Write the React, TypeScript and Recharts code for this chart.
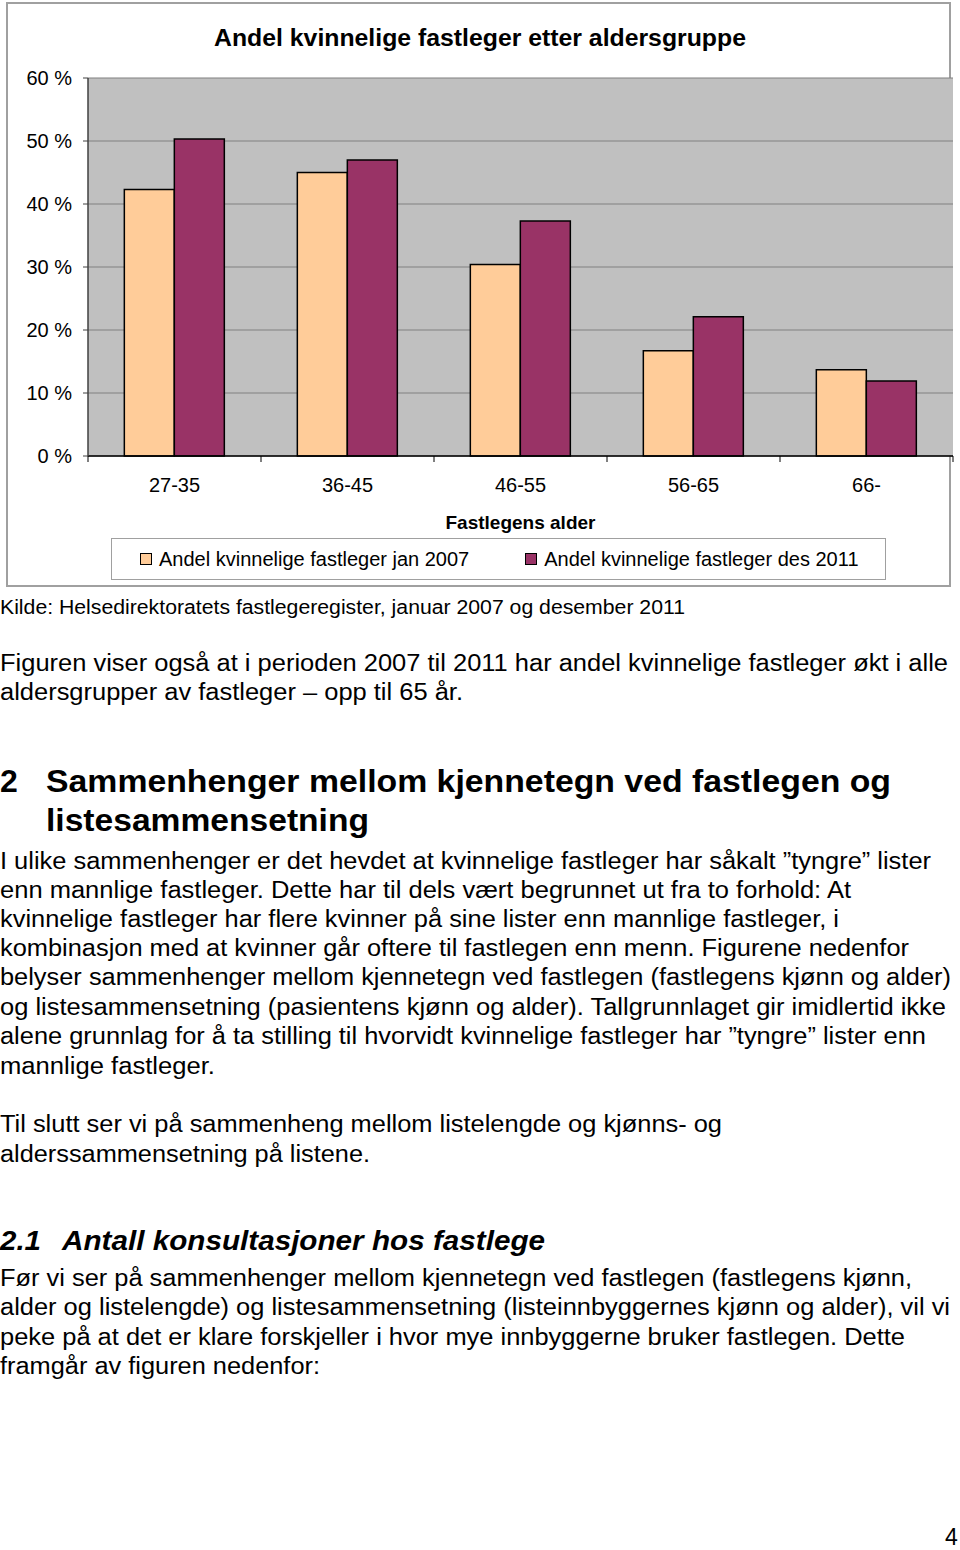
import React from 'react';
import {
  BarChart,
  Bar,
  XAxis,
  YAxis,
  CartesianGrid,
  Legend,
} from 'recharts';

const ageGroups = ['27-35', '36-45', '46-55', '56-65', '66-'];
const share2007 = [42.3, 45.0, 30.4, 16.7, 13.7];
const share2011 = [50.3, 47.0, 37.3, 22.1, 11.9];
const yTicks = [0, 10, 20, 30, 40, 50, 60];
const seriesKeys = ['jan2007', 'des2011'];
const seriesNames = [
  'Andel kvinnelige fastleger jan 2007',
  'Andel kvinnelige fastleger des 2011',
];
const chartTitle = 'Andel kvinnelige fastleger etter aldersgruppe';
const xTitle = 'Fastlegens alder';

const data = ageGroups.map((age, i) => ({
  age,
  jan2007: share2007[i],
  des2011: share2011[i],
}));

const FONT = '"Liberation Sans", Arial, Helvetica, sans-serif';

type Line = {
  t: string;
  x: number;
  y: number;
  w?: number;
  s: number;
  b?: boolean;
  i?: boolean;
};

const pageText: Line[] = [
  { t: 'Kilde: Helsedirektoratets fastlegeregister, januar 2007 og desember 2011', x: 0, y: 614, w: 685, s: 20 },
  { t: 'Figuren viser også at i perioden 2007 til 2011 har andel kvinnelige fastleger økt i alle', x: 0, y: 671, w: 948, s: 23 },
  { t: 'aldersgrupper av fastleger – opp til 65 år.', x: 0, y: 700, w: 463, s: 23 },
  { t: '2', x: 0, y: 792, s: 32, b: true },
  { t: 'Sammenhenger mellom kjennetegn ved fastlegen og', x: 46, y: 792, w: 845, s: 32, b: true },
  { t: 'listesammensetning', x: 46, y: 831, w: 323, s: 32, b: true },
  { t: 'I ulike sammenhenger er det hevdet at kvinnelige fastleger har såkalt ”tyngre” lister', x: 0, y: 869, w: 931, s: 23 },
  { t: 'enn mannlige fastleger. Dette har til dels vært begrunnet ut fra to forhold: At', x: 0, y: 898, w: 851, s: 23 },
  { t: 'kvinnelige fastleger har flere kvinner på sine lister enn mannlige fastleger, i', x: 0, y: 927, w: 839, s: 23 },
  { t: 'kombinasjon med at kvinner går oftere til fastlegen enn menn. Figurene nedenfor', x: 0, y: 956, w: 909, s: 23 },
  { t: 'belyser sammenhenger mellom kjennetegn ved fastlegen (fastlegens kjønn og alder)', x: 0, y: 985, w: 951, s: 23 },
  { t: 'og listesammensetning (pasientens kjønn og alder). Tallgrunnlaget gir imidlertid ikke', x: 0, y: 1015, w: 946, s: 23 },
  { t: 'alene grunnlag for å ta stilling til hvorvidt kvinnelige fastleger har ”tyngre” lister enn', x: 0, y: 1044, w: 926, s: 23 },
  { t: 'mannlige fastleger.', x: 0, y: 1074, w: 215, s: 23 },
  { t: 'Til slutt ser vi på sammenheng mellom listelengde og kjønns- og', x: 0, y: 1132, w: 722, s: 23 },
  { t: 'alderssammensetning på listene.', x: 0, y: 1162, w: 370, s: 23 },
  { t: '2.1', x: 0, y: 1250, w: 41, s: 28, b: true, i: true },
  { t: 'Antall konsultasjoner hos fastlege', x: 62, y: 1250, w: 483, s: 28, b: true, i: true },
  { t: 'Før vi ser på sammenhenger mellom kjennetegn ved fastlegen (fastlegens kjønn,', x: 0, y: 1286, w: 912, s: 23 },
  { t: 'alder og listelengde) og listesammensetning (listeinnbyggernes kjønn og alder), vil vi', x: 0, y: 1315, w: 950, s: 23 },
  { t: 'peke på at det er klare forskjeller i hvor mye innbyggerne bruker fastlegen. Dette', x: 0, y: 1345, w: 905, s: 23 },
  { t: 'framgår av figuren nedenfor:', x: 0, y: 1374, w: 320, s: 23 },
  { t: '4', x: 945, y: 1545, s: 23 },
];

const LegendBox = (props: any) => {
  const payload = [...(props.payload || [])].sort(
    (a: any, b: any) => seriesKeys.indexOf(a.dataKey) - seriesKeys.indexOf(b.dataKey)
  );
  return (
    <div
      style={{
        boxSizing: 'border-box',
        width: 775,
        height: 42,
        border: '1.5px solid #a0a0a0',
        background: '#fff',
        display: 'flex',
        alignItems: 'center',
        paddingLeft: 28,
        fontFamily: FONT,
        fontSize: 20,
        color: '#000',
        whiteSpace: 'nowrap',
      }}
    >
      {payload.map((p: any, i: number) => (
        <div
          key={i}
          style={{ display: 'flex', alignItems: 'center', marginRight: i === 0 ? 56 : 0 }}
        >
          <span
            style={{
              display: 'inline-block',
              boxSizing: 'border-box',
              width: 12,
              height: 12,
              background: p.color,
              border: '1px solid #000',
              marginRight: 7,
            }}
          />
          <span>{p.value}</span>
        </div>
      ))}
    </div>
  );
};

const AxisTitle = (props: any) => {
  const vb = props.viewBox || {};
  return (
    <text
      x={vb.x + vb.width / 2}
      y={vb.y + 73}
      textAnchor="middle"
      fontFamily={FONT}
      fontSize={19}
      fontWeight="bold"
      fill="#000"
    >
      {xTitle}
    </text>
  );
};

// Excel-style category tick: label at band centre, tick marks at band boundaries
const CategoryTick = (props: any) => {
  const { x, y, payload, index, visibleTicksCount } = props;
  const half = payload && payload.offset ? payload.offset : 0;
  const axisY = y - 22;
  const isLast = index === (visibleTicksCount || ageGroups.length) - 1;
  return (
    <g>
      <line x1={x - half} x2={x - half} y1={axisY} y2={axisY + 6} stroke="#000" strokeWidth={1} />
      {isLast ? (
        <line x1={x + half} x2={x + half} y1={axisY} y2={axisY + 6} stroke="#000" strokeWidth={1} />
      ) : null}
      <text
        x={x}
        y={y}
        dy="0.71em"
        textAnchor="middle"
        fontFamily={FONT}
        fontSize={20}
        fill="#000"
      >
        {payload.value}
      </text>
    </g>
  );
};

export default function App() {
  return (
    <div
      style={{
        position: 'absolute',
        left: 0,
        top: 0,
        width: 960,
        height: 1550,
        background: '#fff',
        overflow: 'hidden',
      }}
    >
      <svg
        width={960}
        height={1550}
        style={{ position: 'absolute', left: 0, top: 0 }}
      >
        {pageText.map((l, i) => (
          <text
            key={i}
            x={l.x}
            y={l.y}
            fontFamily={FONT}
            fontSize={l.s}
            fontWeight={l.b ? 'bold' : 'normal'}
            fontStyle={l.i ? 'italic' : 'normal'}
            fill="#000"
            {...(l.w ? { textLength: l.w, lengthAdjust: 'spacingAndGlyphs' } : {})}
          >
            {l.t}
          </text>
        ))}
      </svg>

      <div
        style={{
          position: 'absolute',
          left: 6,
          top: 2,
          width: 945,
          height: 585,
          boxSizing: 'border-box',
          border: '2px solid #a0a0a0',
          background: '#fff',
        }}
      />

      <div
        style={{
          position: 'absolute',
          left: 0,
          top: 23,
          width: 960,
          textAlign: 'center',
          fontFamily: FONT,
          fontWeight: 'bold',
          fontSize: 24.8,
          lineHeight: '30px',
          color: '#000',
        }}
      >
        {chartTitle}
      </div>

      <div style={{ position: 'absolute', left: 0, top: 0 }}>
        <BarChart
          width={960}
          height={600}
          data={data}
          margin={{ top: 78, right: 7, bottom: 114, left: 8 }}
          barCategoryGap="21%"
          barGap={0}
        >
          <CartesianGrid
            horizontal
            vertical={false}
            stroke="#808080"
            strokeWidth={1.2}
            fill="#C0C0C0"
            fillOpacity={1}
          />
          <XAxis
            dataKey="age"
            height={30}
            axisLine={{ stroke: '#000', strokeWidth: 1.5 }}
            tickLine={false}
            tickSize={0}
            tickMargin={22}
            tick={<CategoryTick />}
            interval={0}
            label={<AxisTitle />}
          />
          <YAxis
            domain={[0, 60]}
            ticks={yTicks}
            width={80}
            interval={0}
            tickFormatter={(v: number) => `${v} %`}
            axisLine={{ stroke: '#404040', strokeWidth: 1.5 }}
            tickLine={{ stroke: '#404040' }}
            tickSize={5}
            tickMargin={11}
            tick={{ fontFamily: FONT, fontSize: 20, fill: '#000' }}
          />
          <YAxis
            yAxisId="right"
            orientation="right"
            domain={[0, 60]}
            width={0}
            tick={false}
            tickLine={false}
            axisLine={{ stroke: '#606060', strokeWidth: 2 }}
          />
          <Legend
            verticalAlign="middle"
            layout="horizontal"
            wrapperStyle={{ left: 111, top: 538, width: 775, height: 42 }}
            content={<LegendBox />}
          />
          <Bar
            dataKey="jan2007"
            name={seriesNames[0]}
            fill="#FFCC99"
            stroke="#000"
            strokeWidth={1.5}
            isAnimationActive={false}
          />
          <Bar
            dataKey="des2011"
            name={seriesNames[1]}
            fill="#993366"
            stroke="#000"
            strokeWidth={1.5}
            isAnimationActive={false}
          />
        </BarChart>
      </div>
    </div>
  );
}
